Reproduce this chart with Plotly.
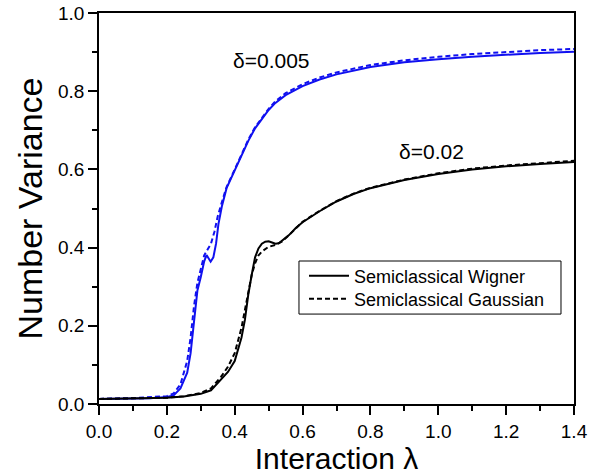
import plotly.graph_objects as go

# delta = 0.005 (blue)
blue_w_x = [0.0, 0.1, 0.15, 0.2, 0.22, 0.24, 0.26, 0.27, 0.28, 0.29, 0.30, 0.31, 0.317, 0.323, 0.329, 0.337, 0.345, 0.352, 0.362, 0.376, 0.39, 0.40, 0.41, 0.425, 0.44, 0.46, 0.48, 0.50, 0.52, 0.55, 0.6, 0.65, 0.7, 0.75, 0.8, 0.9, 1.0, 1.1, 1.2, 1.3, 1.4]
blue_w_y = [0.013, 0.014, 0.015, 0.018, 0.022, 0.04, 0.08, 0.13, 0.22, 0.29, 0.325, 0.365, 0.381, 0.372, 0.364, 0.375, 0.41, 0.46, 0.505, 0.552, 0.578, 0.597, 0.616, 0.645, 0.673, 0.705, 0.73, 0.752, 0.77, 0.79, 0.813, 0.83, 0.843, 0.853, 0.862, 0.874, 0.882, 0.888, 0.893, 0.898, 0.901]

blue_g_x = [0.0, 0.1, 0.2, 0.22, 0.24, 0.26, 0.27, 0.28, 0.29, 0.30, 0.31, 0.32, 0.33, 0.34, 0.35, 0.36, 0.376, 0.39, 0.40, 0.41, 0.425, 0.44, 0.46, 0.48, 0.50, 0.52, 0.55, 0.6, 0.65, 0.7, 0.75, 0.8, 0.9, 1.0, 1.1, 1.2, 1.3, 1.4]
blue_g_y = [0.013, 0.015, 0.02, 0.027, 0.05, 0.11, 0.17, 0.25, 0.31, 0.345, 0.38, 0.395, 0.41, 0.44, 0.48, 0.51, 0.555, 0.581, 0.600, 0.619, 0.648, 0.676, 0.708, 0.733, 0.755, 0.774, 0.795, 0.818, 0.835, 0.848, 0.858, 0.867, 0.879, 0.888, 0.895, 0.90, 0.905, 0.908]

# delta = 0.02 (black)
black_w_x = [0.0, 0.1, 0.2, 0.25, 0.30, 0.33, 0.36, 0.38, 0.40, 0.42, 0.43, 0.44, 0.45, 0.46, 0.47, 0.48, 0.49, 0.50, 0.51, 0.52, 0.53, 0.54, 0.56, 0.58, 0.60, 0.65, 0.70, 0.75, 0.8, 0.9, 1.0, 1.1, 1.2, 1.3, 1.4]
black_w_y = [0.013, 0.014, 0.016, 0.019, 0.026, 0.035, 0.062, 0.082, 0.11, 0.17, 0.215, 0.28, 0.33, 0.375, 0.398, 0.41, 0.415, 0.416, 0.413, 0.41, 0.411, 0.418, 0.432, 0.45, 0.465, 0.493, 0.518, 0.537, 0.552, 0.573, 0.588, 0.600, 0.608, 0.614, 0.619]

black_g_x = [0.0, 0.1, 0.2, 0.25, 0.30, 0.33, 0.36, 0.38, 0.40, 0.42, 0.43, 0.44, 0.45, 0.46, 0.47, 0.48, 0.50, 0.52, 0.54, 0.56, 0.58, 0.60, 0.65, 0.70, 0.75, 0.8, 0.9, 1.0, 1.1, 1.2, 1.3, 1.4]
black_g_y = [0.013, 0.014, 0.016, 0.02, 0.028, 0.04, 0.07, 0.095, 0.13, 0.195, 0.24, 0.29, 0.33, 0.36, 0.38, 0.39, 0.402, 0.407, 0.416, 0.432, 0.45, 0.466, 0.494, 0.519, 0.538, 0.553, 0.574, 0.59, 0.602, 0.61, 0.616, 0.622]

x_ticks = [0.0, 0.2, 0.4, 0.6, 0.8, 1.0, 1.2, 1.4]
y_ticks = [0.0, 0.2, 0.4, 0.6, 0.8, 1.0]

FONT = "Liberation Sans, Arial, Helvetica, sans-serif"
BLUE = "#1010f0"
DASH = "5px,3px"

fig = go.Figure()
fig.add_trace(go.Scatter(x=blue_w_x, y=blue_w_y, mode="lines", showlegend=False,
                         line=dict(color=BLUE, width=2)))
fig.add_trace(go.Scatter(x=blue_g_x, y=blue_g_y, mode="lines", showlegend=False,
                         line=dict(color=BLUE, width=2, dash=DASH)))
fig.add_trace(go.Scatter(x=black_w_x, y=black_w_y, mode="lines", name="Semiclassical Wigner",
                         legend="legend", line=dict(color="black", width=2)))
fig.add_trace(go.Scatter(x=black_g_x, y=black_g_y, mode="lines", name="Semiclassical Gaussian",
                         legend="legend2", line=dict(color="black", width=2, dash=DASH)))

fig.add_annotation(x=0.509, y=0.878, text="δ=0.005", showarrow=False,
                   font=dict(size=21, color="black", family=FONT))
fig.add_annotation(x=0.981, y=0.645, text="δ=0.02", showarrow=False,
                   font=dict(size=21, color="black", family=FONT))

# legend frame
fig.add_shape(type="rect", xref="paper", yref="paper", x0=0.421, x1=0.9726, y0=0.230, y1=0.3657,
              line=dict(color="black", width=1), fillcolor="white", layer="above")

axis_common = dict(showgrid=False, zeroline=False, showline=True, linecolor="black",
                   linewidth=1.5, mirror=True, ticks="outside", ticklen=9, tickwidth=1.5,
                   tickcolor="black", automargin=False,
                   tickfont=dict(size=19, color="black", family=FONT))

fig.update_xaxes(range=[0, 1.4], tickvals=x_ticks, ticktext=[f"{v:.1f}" for v in x_ticks],
                 minor=dict(dtick=0.1, ticks="outside", ticklen=5, tickwidth=1.5, tickcolor="black"),
                 title=dict(text="Interaction λ", font=dict(size=30, color="black", family=FONT), standoff=6),
                 **axis_common)
fig.update_yaxes(range=[0, 1.0], tickvals=y_ticks, ticktext=[f"{v:.1f}" for v in y_ticks],
                 minor=dict(dtick=0.1, ticks="outside", ticklen=5, tickwidth=1.5, tickcolor="black"),
                 title=dict(text="Number Variance", font=dict(size=34, color="black", family=FONT), standoff=5),
                 **axis_common)

leg_common = dict(xanchor="left", yanchor="middle", borderwidth=0, bgcolor="rgba(0,0,0,0)",
                  font=dict(size=18, color="black", family=FONT), itemwidth=40)

fig.update_layout(
    width=589, height=476,
    margin=dict(l=99, r=15, t=13, b=72, autoexpand=False),
    plot_bgcolor="white", paper_bgcolor="white",
    font=dict(family=FONT, color="black"),
    legend=dict(x=0.4316, y=0.327, **leg_common),
    legend2=dict(x=0.4316, y=0.2685, **leg_common),
)

fig.write_html("out.html")
